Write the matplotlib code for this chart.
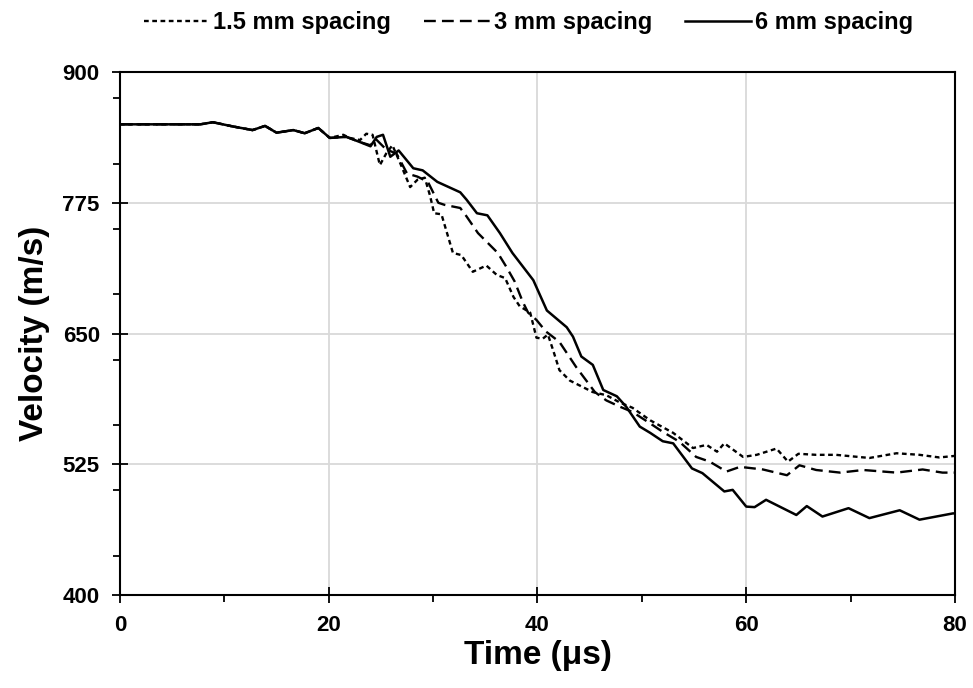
"""
    Velocity vs time for three spacings
"""

import matplotlib.pyplot as plt
from matplotlib.ticker import MultipleLocator

plt.rcParams['font.family'] = ['Liberation Sans', 'DejaVu Sans']
plt.rcParams['font.weight'] = 'bold'

# 1.5 mm spacing
t_15 = [0, 7.7, 8.9, 10.8, 12.7, 13.9, 15, 16.6, 17.7, 19, 20.1, 21.4, 22, 23, 23.6, 24.2,
        24.9, 25.5, 26.1, 26.8, 27.8, 28.5, 29.2, 29.7, 30.1, 30.8, 31.9, 32.7, 33.8, 35.1,
        36.1, 36.9, 37.7, 38.3, 39.3, 39.9, 40.5, 41, 41.5, 42.1, 43.1, 45.3, 46.6, 47.9,
        49.1, 50.8, 53, 54.9, 56.2, 57.2, 57.9, 59.7, 61, 62.9, 64, 65, 66.7, 68.6, 71.8,
        74.4, 76.6, 78.5, 80]
v_15 = [850, 850, 852, 848, 844.5, 848.5, 842, 844.5, 841.5, 846.5, 837, 840, 837, 835, 841, 840,
        811, 822, 830, 814, 790, 797, 799, 782, 765, 764, 727, 725, 709, 715,
        706, 703, 685, 676, 670, 646, 645, 649, 634, 615, 605, 594, 591, 584,
        579, 567, 555, 540.5, 543.5, 537, 545, 532, 534, 540, 527.5, 535, 534, 534, 531,
        535.5, 534, 531.5, 533]

# 3 mm spacing
t_3 = [0, 7.7, 8.9, 10.8, 12.7, 13.9, 15, 16.6, 17.7, 19, 20.1, 21.7, 23, 24, 24.5, 25.5,
       26.5, 27.5, 28.5, 29.5, 30.5, 31.1, 32.6, 33.2, 34.3, 35.1, 36.2, 37, 37.8, 38.6,
       39.1, 39.9, 40.8, 42.1, 43.7, 45.5, 46.6, 47.9, 49.1, 50.8, 52, 53.6, 55.2, 56.5,
       58.1, 59.4, 61.6, 63.9, 65.1, 66.7, 69, 71.2, 74.4, 76.9, 78.8, 80]
v_3 = [850, 850, 852, 848, 844.5, 848.5, 842, 844.5, 841.5, 846.5, 837, 838, 833, 830, 836, 826,
       822, 803, 800, 795, 775, 773, 770, 762, 746, 738, 727, 714, 700, 680,
       670, 663, 652, 642, 618, 594, 586, 580, 575, 564, 556, 546.5, 532, 527.5,
       518, 522.5, 520, 514.5, 524, 519.5, 517, 519.5, 517, 520, 517, 517]

# 6 mm spacing
t_6 = [0, 7.7, 8.9, 10.8, 12.7, 13.9, 15, 16.6, 17.7, 19, 20.1, 21.7, 23, 24, 24.6, 25.2,
       25.9, 26.7, 28.1, 29, 30.4, 32.6, 33.2, 34.2, 35.2, 36.4, 37.6, 39.6, 40.9, 42.8,
       43.4, 44.2, 45.3, 46.3, 47.6, 48.5, 49.8, 50.8, 52, 53, 54.8, 55.8, 57.9, 58.7,
       60, 60.8, 61.9, 64.8, 65.8, 67.3, 69.8, 71.8, 74.7, 76.6, 79.8, 80]
v_6 = [850, 850, 852, 848, 844.5, 848.5, 842, 844.5, 841.5, 846.5, 837, 838, 833, 829, 838, 840,
       819, 825, 808, 806, 795, 785, 778, 765, 763, 746, 727, 701, 672, 656,
       647, 628, 620, 596, 590, 580, 561, 555, 547, 545, 521, 516.5, 499, 500.5,
       484.5, 484, 491, 476.5, 485, 475, 483, 473.5, 481, 472, 478, 478]

x_ticks = [0, 20, 40, 60, 80]
y_ticks = [400, 525, 650, 775, 900]

fig = plt.figure(figsize=(9.73, 6.88), dpi=100)
ax = fig.add_axes([0.1233, 0.1352, 0.8582, 0.7601])

ax.plot(t_15, v_15, color='black', lw=1.7, linestyle=(0, (2.0, 1.5)), label='1.5 mm spacing')
ax.plot(t_3, v_3, color='black', lw=1.7, linestyle=(0, (5.0, 2.6)), label='3 mm spacing')
ax.plot(t_6, v_6, color='black', lw=1.8, label='6 mm spacing')

ax.set_xlim(0, 80)
ax.set_ylim(400, 900)
ax.set_xticks(x_ticks)
ax.set_yticks(y_ticks)
ax.xaxis.set_minor_locator(MultipleLocator(10))
ax.yaxis.set_minor_locator(MultipleLocator(62.5))
ax.grid(True, which='major', color='#d9d9d9', lw=1.3)
ax.set_axisbelow(True)

ax.tick_params(axis='both', which='major', direction='inout', length=11, width=1.3,
               labelsize=16, pad=9)
ax.tick_params(axis='both', which='minor', direction='out', length=5, width=1.3)
for s in ax.spines.values():
    s.set_linewidth(1.5)

ax.set_xlabel('Time (μs)', fontsize=24, fontweight='bold', labelpad=3)
ax.set_ylabel('Velocity (m/s)', fontsize=24, fontweight='bold', labelpad=9)

fig.legend(loc='upper center', bbox_to_anchor=(0.543, 1.015), ncol=3, frameon=False,
           handlelength=2.8, columnspacing=1.4, handletextpad=0.15,
           prop={'weight': 'bold', 'size': 17})

plt.savefig('out.png', dpi=100)
